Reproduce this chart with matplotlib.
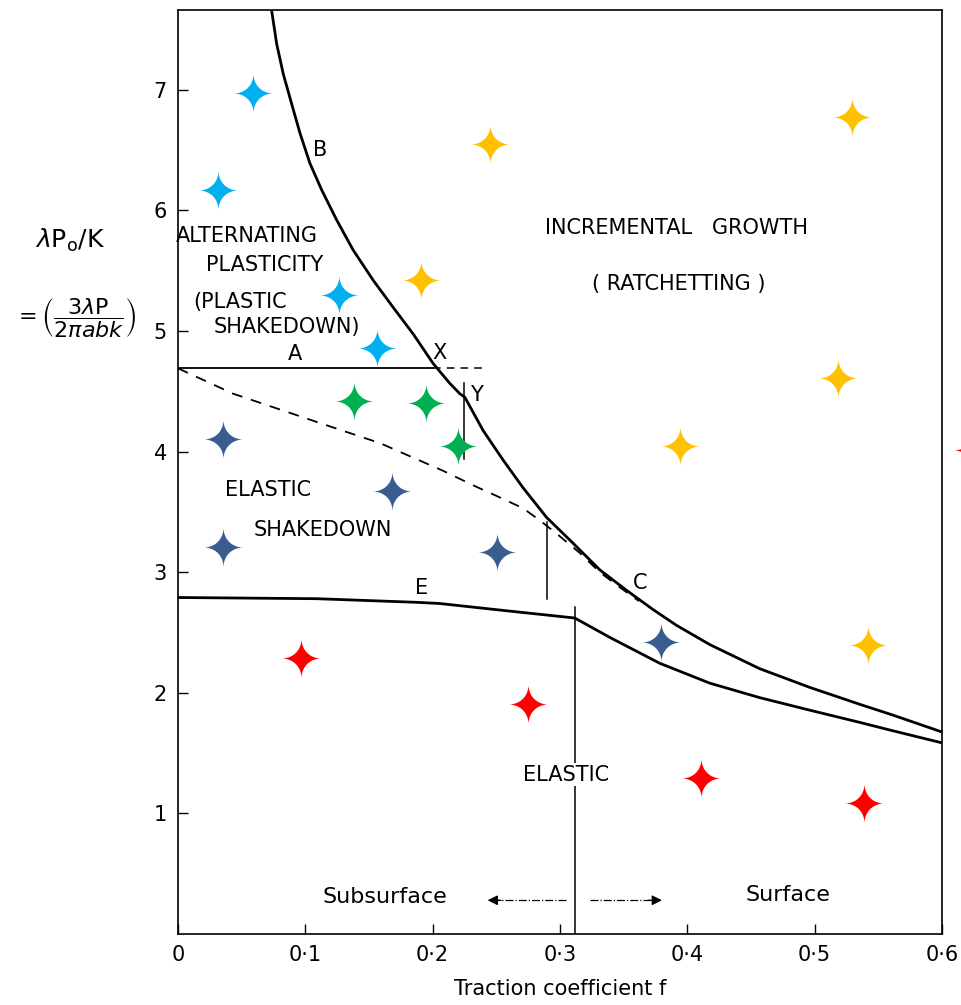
# coding:utf-8
import numpy as np
import matplotlib
matplotlib.use("Agg")
from matplotlib import pyplot as plt
from matplotlib.path import Path

plt.rcParams['font.family'] = ['DejaVu Sans']
plt.rcParams['mathtext.fontset'] = 'dejavusans'

# boundary curves (traction coefficient f, load parameter)
b_f = [0.0735, 0.0775, 0.0827, 0.0892, 0.0958, 0.1036, 0.1128, 0.1246, 0.1376, 0.1533,
       0.169, 0.1847, 0.2004, 0.2135, 0.2213, 0.2253, 0.2396, 0.2553, 0.271, 0.2894,
       0.3103, 0.3312, 0.3522, 0.3731, 0.3914, 0.4176, 0.4568, 0.4961, 0.5353, 0.5615, 0.6]
b_p = [7.66, 7.38, 7.13, 6.885, 6.64, 6.39, 6.17, 5.92, 5.67, 5.42,
       5.195, 4.975, 4.73, 4.565, 4.48, 4.45, 4.175, 3.93, 3.70, 3.455,
       3.24, 3.02, 2.85, 2.69, 2.56, 2.40, 2.20, 2.045, 1.905, 1.815, 1.675]

dash_f = [0.0, 0.0432, 0.1217, 0.1586, 0.2083, 0.2318, 0.2527, 0.271, 0.2841, 0.2973,
          0.3155, 0.3312, 0.3469, 0.362]
dash_p = [4.69, 4.48, 4.20, 4.07, 3.84, 3.72, 3.62, 3.53, 3.43, 3.32,
          3.16, 3.00, 2.875, 2.76]

e_f = [0.0, 0.109, 0.1876, 0.2057, 0.258, 0.3116, 0.339, 0.3783, 0.4176, 0.4568,
       0.4961, 0.5353, 0.5615, 0.6]
e_p = [2.79, 2.78, 2.75, 2.74, 2.68, 2.62, 2.46, 2.245, 2.08, 1.96,
       1.856, 1.755, 1.685, 1.585]

a_level = 4.69
a_end = 0.200
a_dash_end = 0.241

# vertical marker lines: (f, p_low, p_high)
vlines = [(0.2245, 3.94, 4.57), (0.290, 2.78, 3.42), (0.3116, 0.0, 2.71)]

# test points
lightblue_f = [0.0589, 0.0314, 0.1264, 0.156]
lightblue_p = [6.97, 6.17, 5.30, 4.86]
yellow_f = [0.245, 0.1907, 0.529, 0.518, 0.394, 0.5416]
yellow_p = [6.55, 5.42, 6.77, 4.61, 4.05, 2.40]
green_f = [0.138, 0.1947, 0.2198]
green_p = [4.42, 4.40, 4.05]
darkblue_f = [0.0353, 0.168, 0.0353, 0.2504, 0.379]
darkblue_p = [4.10, 3.67, 3.21, 3.17, 2.42]
red_f = [0.0965, 0.2747, 0.4105, 0.539, 0.624]
red_p = [2.29, 1.91, 1.29, 1.09, 4.01]

x_ticks = [0, 0.1, 0.2, 0.3, 0.4, 0.5, 0.6]
x_tick_labels = ["0", "0·1", "0·2", "0·3", "0·4", "0·5", "0·6"]
y_ticks = [1, 2, 3, 4, 5, 6, 7]

# four pointed star marker
t = np.linspace(0, 2 * np.pi, 241)
c, s = np.cos(t), np.sin(t)
star = np.column_stack([np.sign(c) * np.abs(c) ** 3.6, np.sign(s) * np.abs(s) ** 3.6])
star_marker = Path(star)

fig = plt.figure(figsize=(9.61, 10.05), dpi=100)
ax = fig.add_axes([0.1852, 0.0706, 0.795, 0.9194])

ax.plot(b_f, b_p, color="black", lw=2, solid_joinstyle="round")
ax.plot(e_f, e_p, color="black", lw=2, solid_joinstyle="round")
ax.plot(dash_f, dash_p, color="black", lw=1.3, linestyle=(0, (6, 5)))
ax.plot([0, a_end], [a_level, a_level], color="black", lw=1.3)
ax.plot([a_end, a_dash_end], [a_level, a_level], color="black", lw=1.1, linestyle=(0, (5, 4)))
for f, lo, hi in vlines:
    ax.plot([f, f], [lo, hi], color="black", lw=1.1)

for xs, ys, col in [(lightblue_f, lightblue_p, "#00B0F0"),
                    (yellow_f, yellow_p, "#FFC000"),
                    (green_f, green_p, "#00B050"),
                    (darkblue_f, darkblue_p, "#3A5D8F"),
                    (red_f, red_p, "#FF0000")]:
    ax.scatter(xs, ys, s=800, marker=star_marker, color=col, lw=0, zorder=5, clip_on=False)

# region labels
fs = 15
ax.text(0.1115, 6.50, "B", fontsize=fs, ha="center", va="center")
ax.text(0.0542, 5.79, "ALTERNATING", fontsize=fs, ha="center", va="center")
ax.text(0.0680, 5.55, "PLASTICITY", fontsize=fs, ha="center", va="center")
ax.text(0.0487, 5.24, "(PLASTIC", fontsize=fs, ha="center", va="center")
ax.text(0.0855, 5.03, "SHAKEDOWN)", fontsize=fs, ha="center", va="center")
ax.text(0.0920, 4.81, "A", fontsize=fs, ha="center", va="center")
ax.text(0.2057, 4.82, "X", fontsize=fs, ha="center", va="center")
ax.text(0.2347, 4.47, "Y", fontsize=fs, ha="center", va="center")
ax.text(0.3626, 2.91, "C", fontsize=fs, ha="center", va="center")
ax.text(0.1915, 2.87, "E", fontsize=fs, ha="center", va="center")
ax.text(0.0707, 3.68, "ELASTIC", fontsize=fs, ha="center", va="center")
ax.text(0.1140, 3.35, "SHAKEDOWN", fontsize=fs, ha="center", va="center")
ax.text(0.3917, 5.85, "INCREMENTAL   GROWTH", fontsize=fs, ha="center", va="center")
ax.text(0.3932, 5.39, "( RATCHETTING )", fontsize=fs, ha="center", va="center")
ax.text(0.3046, 1.32, "ELASTIC", fontsize=fs, ha="center", va="center",
        bbox=dict(facecolor="white", edgecolor="none", pad=1))
ax.text(0.1625, 0.31, "Subsurface", fontsize=fs + 1, ha="center", va="center")
ax.text(0.479, 0.32, "Surface", fontsize=fs + 1, ha="center", va="center")

# arrows either side of the elastic limit line
ax.plot([0.305, 0.250], [0.28, 0.28], color="black", lw=0.9, linestyle="-.")
ax.annotate("", xy=(0.241, 0.28), xytext=(0.256, 0.28),
            arrowprops=dict(arrowstyle="-|>", color="black", lw=0.9, mutation_scale=15))
ax.plot([0.3234, 0.372], [0.28, 0.28], color="black", lw=0.9, linestyle="-.")
ax.annotate("", xy=(0.3823, 0.28), xytext=(0.367, 0.28),
            arrowprops=dict(arrowstyle="-|>", color="black", lw=0.9, mutation_scale=15))

ax.set_xlim(0, 0.6)
ax.set_ylim(0, 7.66)
ax.set_xticks(x_ticks, x_tick_labels)
ax.set_yticks(y_ticks)
ax.tick_params(direction="in", length=7, width=1, labelsize=15, pad=8)
for sp in ax.spines.values():
    sp.set_linewidth(1.2)

ax.set_xlabel("Traction coefficient f", fontsize=15, labelpad=10)

fig.text(0.073, 0.761, r"$\lambda\mathrm{P}_{\mathrm{o}}/\mathrm{K}$", fontsize=18,
         ha="center", va="center")
fig.text(0.078, 0.684, r"$=\left(\dfrac{3\lambda \mathrm{P}}{2\pi abk}\right)$", fontsize=16,
         ha="center", va="center")

plt.savefig("out.png", dpi=100)
